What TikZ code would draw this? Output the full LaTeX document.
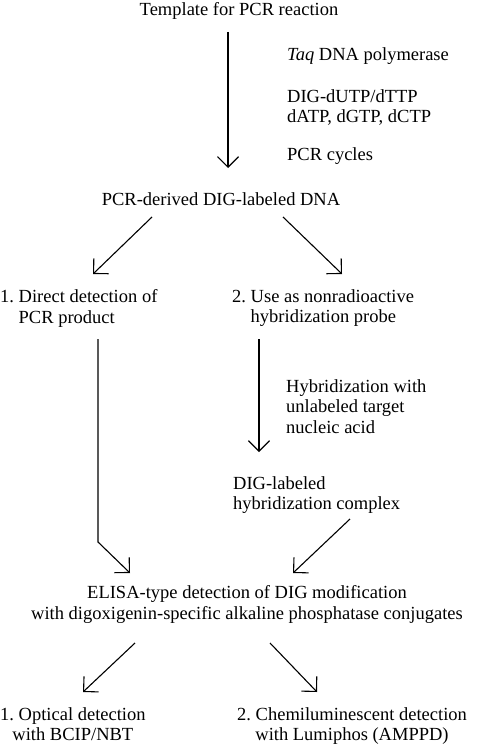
\documentclass[tikz,border=0pt]{standalone}
\usepackage{fontspec}
\setmainfont{Liberation Serif}
\usetikzlibrary{arrows.meta, calc}

\begin{document}
\begin{tikzpicture}[
  x=1pt, y=-1pt,
  txt/.style={inner sep=0pt, font=\fontsize{18.5}{20.5}\selectfont},
  edge/.style={-{Straight Barb[angle=90:15pt]}, line width=1.1pt}
]
\useasboundingbox (0,0) rectangle (480,749);

\node[txt, anchor=north] (title) at (239,2.4) {Template for PCR reaction};
\node[txt, anchor=base west] (taq) at (287,61) {\textit{Taq} DNA polymerase};
\node[txt, anchor=north west, align=left] (dntp) at (287,89) {DIG-dUTP/dTTP\\dATP, dGTP, dCTP};
\node[txt, anchor=base west] (cycles) at (287,160) {PCR cycles};
\node[txt, anchor=north] (pcr) at (221,192.4) {PCR-derived DIG-labeled DNA};
\node[txt, anchor=north west, align=left] (direct) at (0,289.4)
  {1.\ Direct detection of\\\phantom{1.\ }PCR product};
\node[txt, anchor=north west, align=left] (probe) at (232,289.4)
  {2.\ Use as nonradioactive\\\phantom{2.\ }hybridization probe};
\node[txt, anchor=north west, align=left] (hyb) at (286,379.4)
  {Hybridization with\\unlabeled target\\nucleic acid};
\node[txt, anchor=north west, align=left] (complex) at (233,476.4)
  {DIG-labeled\\hybridization complex};
\node[txt, anchor=north, align=center] (elisa) at (247,585.4)
  {ELISA-type detection of DIG modification\\with digoxigenin-specific alkaline phosphatase conjugates};
\node[txt, anchor=north west, align=center] (optical) at (0,707.4)
  {1.\ Optical detection\\with BCIP/NBT};
\node[txt, anchor=north west, align=center] (chemi) at (237,707.4)
  {2.\ Chemiluminescent detection\\with Lumiphos (AMPPD)};

\draw[edge] ($(title.north)+(-11,29.6)$) -- ($(pcr.north)+(7,-24.4)$);
\draw[edge] ($(pcr.north)+(-69,24.6)$) -- ($(direct.north west)+(93,-15.4)$);
\draw[edge] ($(pcr.north)+(62,24.6)$) -- ($(probe.north west)+(110,-15.4)$);
\draw[edge] ($(direct.north west)+(98,49.6)$) -- ++(0,203) -- ($(elisa.north)+(-117,-12.4)$);
\draw[edge] ($(probe.north west)+(27,49.6)$) -- ($(complex.north west)+(26,-24.4)$);
\draw[edge] ($(complex.north west)+(117,42.6)$) -- ($(elisa.north)+(46,-12.4)$);
\draw[edge] ($(elisa.north)+(-112,57.6)$) -- ($(optical.north west)+(83,-15.4)$);
\draw[edge] ($(elisa.north)+(23,57.6)$) -- ($(chemi.north west)+(80,-15.4)$);
\end{tikzpicture}
\end{document}
